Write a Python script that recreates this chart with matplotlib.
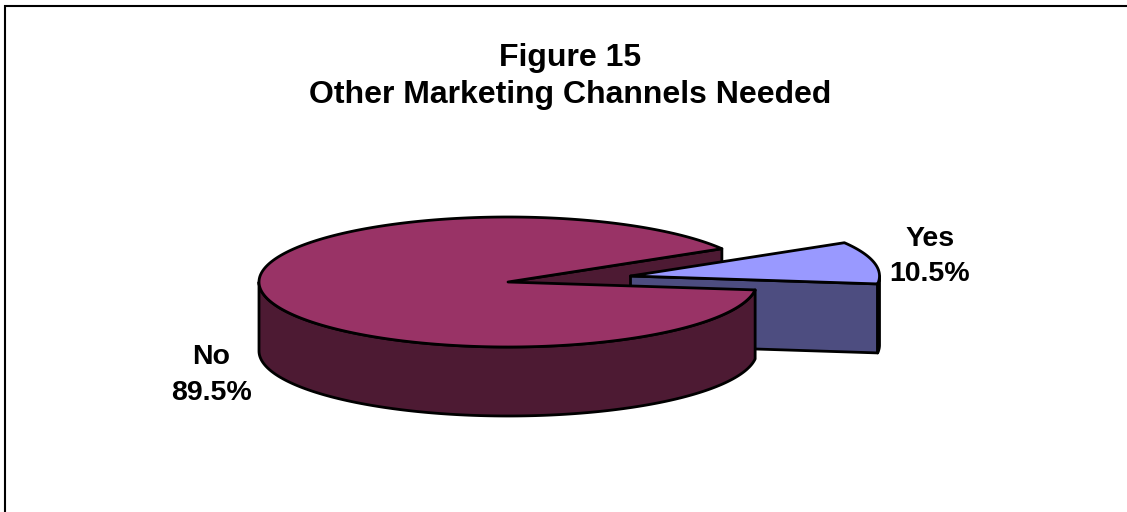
import numpy as np
import matplotlib
matplotlib.use('Agg')
import matplotlib.pyplot as plt
from matplotlib.patches import Polygon

title_lines = ['Figure 15', 'Other Marketing Channels Needed']
categories = ['Yes', 'No']
shares = [10.5, 89.5]
top_colors = ['#9999FF', '#993366']
side_colors = ['#4D4D80', '#4D1A33']

plt.rcParams['font.family'] = ['Liberation Sans', 'DejaVu Sans']

W, H = 1127, 512
fig = plt.figure(figsize=(W / 100, H / 100), dpi=100)
ax = fig.add_axes([0, 0, 1, 1])
ax.set_xlim(0, W)
ax.set_ylim(H, 0)
ax.axis('off')

# ellipse geometry of the tilted disc, in pixels
rx, ry, depth = 249., 65., 69.
center = np.array([508., 282.])
yes_center = np.array([630.5, 276.])
start = -7.


def arc(c, t0, t1, n=200):
    t = np.radians(np.linspace(t0, t1, n))
    return np.column_stack([c[0] + rx * np.cos(t), c[1] - ry * np.sin(t)])


def face(pts, color, z):
    ax.add_patch(Polygon(pts, closed=True, facecolor=color, edgecolor='k',
                         linewidth=2.0, joinstyle='round', zorder=z))


down = np.array([0, depth])
yes_end = start + 360 * shares[0] / sum(shares)

# wall of the big slice seen behind the gap
edge = arc(center, yes_end, yes_end, 1)[0]
face([center, edge, edge + down, center + down], side_colors[1], 1)

# pulled out slice: cut wall, rim, then top
low = arc(yes_center, start, start, 1)[0]
face([yes_center, low, low + down, yes_center + down], side_colors[0], 2)
rim = arc(yes_center, start, 0, 20)
face(np.vstack([rim, (rim + down)[::-1]]), side_colors[0], 2)
face(np.vstack([[yes_center], arc(yes_center, start, yes_end)]),
     top_colors[0], 3)

# big slice: front wall, then top
front = arc(center, 180, 360 + start)
face(np.vstack([front, (front + down)[::-1]]), side_colors[1], 4)
face(np.vstack([[center], arc(center, yes_end, 360 + start, 500)]),
     top_colors[1], 5)

# chart area border, only left and top are in frame
ax.plot([5, 5, W], [H, 6, 6], color='k', lw=1.5, solid_joinstyle='miter',
        zorder=6)

ax.text(570, 76.5, '\n'.join(title_lines), ha='center', va='center',
        fontsize=23, fontweight='bold', linespacing=1.31)
label_pos = [(930, 256.5), (211, 375)]
for name, share, (x, y) in zip(categories, shares, label_pos):
    ax.text(x, y, '%s\n%.1f%%' % (name, share), ha='center', va='center',
            fontsize=20.5, fontweight='bold', linespacing=1.46)

fig.savefig('out.png', dpi=100)
